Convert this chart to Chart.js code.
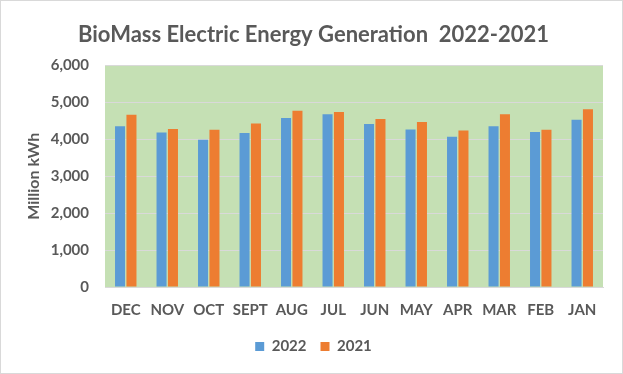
<!DOCTYPE html>
<html>
<head>
<meta charset="utf-8">
<script src="https://cdn.jsdelivr.net/npm/chart.js@4.4.0/dist/chart.umd.min.js"></script>
<style>
  html, body { margin: 0; padding: 0; background: #fff; }
  #wrap { width: 623px; height: 374px; }
</style>
</head>
<body>
<div id="wrap"><canvas id="chart" width="623" height="374"></canvas></div>
<script>
// months as shown, most recent first
const months = ['DEC', 'NOV', 'OCT', 'SEPT', 'AUG', 'JUL', 'JUN', 'MAY', 'APR', 'MAR', 'FEB', 'JAN'];
const gen2022 = [4350, 4180, 3985, 4170, 4575, 4675, 4415, 4265, 4065, 4350, 4200, 4530];
const gen2021 = [4665, 4280, 4260, 4430, 4775, 4740, 4550, 4470, 4235, 4675, 4255, 4810];
const yTicks = [0, 1000, 2000, 3000, 4000, 5000, 6000];

const textColor = '#595959';
const fontFamily = 'Lato, "Open Sans", sans-serif';

// green plot background + thin frame round the whole chart
const plotBg = {
    id: 'plotBg',
    beforeDraw(chart) {
        const { ctx, chartArea: a } = chart;
        ctx.save();
        ctx.fillStyle = '#C5E0B4';
        ctx.fillRect(a.left, a.top, a.right - a.left, a.bottom - a.top);
        ctx.restore();
    },
    afterDraw(chart) {
        const ctx = chart.ctx;
        ctx.save();
        ctx.strokeStyle = '#D9D9D9';
        ctx.lineWidth = 1;
        ctx.strokeRect(0.5, 0.5, chart.width - 1, chart.height - 1);
        ctx.restore();
    }
};

new Chart(document.getElementById('chart').getContext('2d'), {
    type: 'bar',
    data: {
        labels: months,
        datasets: [
            { label: '2022', data: gen2022, backgroundColor: '#5B9BD5' },
            { label: '2021', data: gen2021, backgroundColor: '#ED7D31' }
        ]
    },
    options: {
        responsive: false,
        animation: false,
        layout: { padding: { left: 24, right: 20, top: 0, bottom: 10 } },
        datasets: { bar: { categoryPercentage: 0.55, barPercentage: 0.88 } },
        plugins: {
            title: {
                display: true,
                text: 'BioMass Electric Energy Generation  2022-2021',
                color: textColor,
                font: { family: fontFamily, size: 22, weight: 'bold' },
                padding: { top: 22, bottom: 17 }
            },
            legend: {
                position: 'bottom',
                labels: {
                    color: textColor,
                    font: { family: fontFamily, size: 15, weight: 'bold' },
                    boxWidth: 9,
                    boxHeight: 9,
                    padding: 14
                }
            },
            tooltip: { enabled: false }
        },
        scales: {
            x: {
                grid: { display: false },
                border: { display: true, color: '#D9D9D9' },
                ticks: {
                    color: textColor,
                    font: { family: fontFamily, size: 15, weight: 'bold' },
                    padding: 6,
                    maxRotation: 0,
                    autoSkip: false
                },
                afterFit(scale) { scale.height = 38; }
            },
            y: {
                min: 0,
                max: 6000,
                afterBuildTicks(scale) { scale.ticks = yTicks.map(v => ({ value: v })); },
                grid: { color: '#D9D9D9', drawTicks: false },
                border: { display: false },
                ticks: {
                    color: textColor,
                    font: { family: fontFamily, size: 15, weight: 'bold' },
                    padding: 16,
                    callback: v => v.toLocaleString('en-US')
                },
                title: {
                    display: true,
                    text: 'Million kWh',
                    color: textColor,
                    font: { family: fontFamily, size: 16, weight: 'bold' },
                    padding: 0
                },
                afterFit(scale) { scale.width = 81; }
            }
        }
    },
    plugins: [plotBg]
});
</script>
</body>
</html>
